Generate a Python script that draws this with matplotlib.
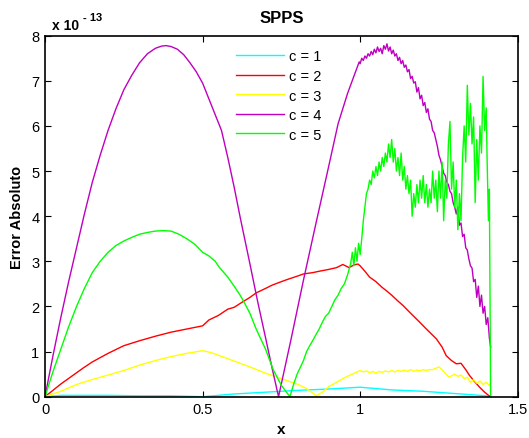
"""SPPS absolute error curves for c = 1..5 (MATLAB-style figure)."""

import matplotlib

matplotlib.use("Agg")
import matplotlib.pyplot as plt

plt.rcParams["font.family"] = ["Liberation Sans", "DejaVu Sans"]

# values in units of 1e-13
labels = ["c = 1", "c = 2", "c = 3", "c = 4", "c = 5"]
colors = ["#00ffff", "#ff0000", "#ffff00", "#bf00bf", "#00ff00"]

c1_x = [0, 0.05, 0.1, 0.2, 0.3, 0.4, 0.45, 0.5, 0.55, 0.6, 0.7, 0.8, 0.9, 1.0,
        1.05, 1.1, 1.2, 1.3, 1.35, 1.4, 1.414]
c1_y = [0, 0.03, 0.03, 0.03, 0.02, 0.02, 0.01, 0.0, 0.03, 0.06, 0.1, 0.14, 0.17, 0.21,
        0.18, 0.15, 0.12, 0.07, 0.045, 0.02, 0.0]

c2_x = [0, 0.05, 0.1, 0.12, 0.15, 0.2, 0.25, 0.3, 0.35, 0.4, 0.45, 0.5, 0.52, 0.55,
        0.58, 0.6, 0.62, 0.65, 0.67, 0.7, 0.72, 0.75, 0.77, 0.8, 0.82, 0.85, 0.87,
        0.9, 0.925, 0.945, 0.965, 0.98, 0.993, 1.0, 1.015, 1.03, 1.05, 1.07, 1.083,
        1.1, 1.12, 1.136, 1.16, 1.189, 1.21, 1.242, 1.26, 1.273, 1.29, 1.305, 1.32,
        1.335, 1.347, 1.36, 1.379, 1.395, 1.409, 1.414]
c2_y = [0, 0.28, 0.53, 0.63, 0.77, 0.96, 1.13, 1.24, 1.34, 1.43, 1.5, 1.57, 1.7, 1.8,
        1.94, 1.98, 2.07, 2.2, 2.3, 2.4, 2.47, 2.55, 2.6, 2.67, 2.72, 2.75, 2.78,
        2.82, 2.86, 2.93, 2.86, 2.92, 2.94, 2.9, 2.78, 2.65, 2.55, 2.42, 2.35,
        2.25, 2.12, 2.02, 1.85, 1.65, 1.5, 1.28, 1.1, 0.91, 0.8, 0.73, 0.74,
        0.6, 0.47, 0.36, 0.21, 0.1, 0.02, 0.0]

c3_x = [0, 0.05, 0.1, 0.15, 0.2, 0.25, 0.3, 0.35, 0.4, 0.45, 0.475, 0.5, 0.525, 0.55,
        0.6, 0.65, 0.7, 0.75, 0.8, 0.83, 0.861, 0.88, 0.9, 0.925, 0.95, 0.975, 1.0,
        1.01, 1.02, 1.03, 1.04, 1.05, 1.06, 1.07, 1.08, 1.09, 1.1, 1.11, 1.12, 1.13,
        1.14, 1.15, 1.16, 1.17, 1.18, 1.19, 1.2, 1.21, 1.22, 1.23, 1.24, 1.25, 1.26,
        1.27, 1.28, 1.29, 1.3, 1.31, 1.32, 1.33, 1.34, 1.35, 1.36, 1.37, 1.38, 1.39,
        1.4, 1.41, 1.414]
c3_y = [0, 0.12, 0.27, 0.38, 0.48, 0.58, 0.7, 0.8, 0.89, 0.96, 0.99, 1.02, 0.98, 0.92,
        0.79, 0.66, 0.52, 0.4, 0.28, 0.18, 0.02, 0.1, 0.22, 0.32, 0.42, 0.5, 0.58,
        0.55, 0.57, 0.53, 0.56, 0.52, 0.56, 0.54, 0.57, 0.55, 0.58, 0.55, 0.58, 0.56,
        0.59, 0.56, 0.6, 0.56, 0.59, 0.57, 0.6, 0.58, 0.6, 0.6, 0.63, 0.66, 0.6,
        0.52, 0.44, 0.46, 0.5, 0.45, 0.48, 0.4, 0.43, 0.32, 0.38, 0.3, 0.35, 0.27,
        0.32, 0.25, 0.3]

c4_x = [0, 0.025, 0.05, 0.075, 0.1, 0.125, 0.15, 0.175, 0.2, 0.225, 0.25, 0.275,
        0.3, 0.325, 0.35, 0.37, 0.384, 0.4, 0.42, 0.44, 0.46, 0.48, 0.5, 0.52, 0.54,
        0.56, 0.58, 0.6, 0.62, 0.65, 0.675, 0.7, 0.72, 0.741, 0.78, 0.82, 0.86, 0.9,
        0.93, 0.96, 0.98, 0.997,
        1.0, 1.005, 1.01, 1.015, 1.02, 1.025, 1.03, 1.035, 1.04, 1.045, 1.05, 1.055,
        1.06, 1.065, 1.07, 1.075, 1.08, 1.085, 1.09, 1.095, 1.1, 1.105, 1.11, 1.115,
        1.12, 1.125, 1.13, 1.135, 1.14, 1.145, 1.15, 1.155, 1.16, 1.165, 1.17, 1.175,
        1.18, 1.185, 1.19, 1.195, 1.2, 1.205, 1.21, 1.215, 1.22, 1.225, 1.23, 1.235,
        1.24, 1.245, 1.25, 1.255, 1.26, 1.265, 1.27, 1.275, 1.28, 1.285, 1.29, 1.295,
        1.3, 1.305, 1.31, 1.315, 1.32, 1.325, 1.33, 1.335, 1.34, 1.345, 1.35, 1.355,
        1.36, 1.365, 1.37, 1.375, 1.38, 1.385, 1.39, 1.395, 1.4, 1.405, 1.41, 1.414]
c4_y = [0, 0.9, 1.75, 2.55, 3.3, 4.05, 4.75, 5.35, 5.9, 6.38, 6.8, 7.12,
        7.4, 7.6, 7.72, 7.77, 7.78, 7.76, 7.7, 7.58, 7.4, 7.2, 6.95, 6.6, 6.25,
        5.9, 5.3, 4.65, 3.95, 2.95, 2.1, 1.3, 0.65, 0.0, 1.25, 2.58, 3.85, 5.1,
        6.05, 6.72, 7.1, 7.42,
        7.38, 7.5, 7.45, 7.55, 7.5, 7.6, 7.55, 7.65, 7.58, 7.7, 7.62, 7.75,
        7.65, 7.72, 7.6, 7.78, 7.7, 7.82, 7.66, 7.75, 7.6, 7.68, 7.55, 7.6,
        7.45, 7.52, 7.38, 7.45, 7.3, 7.35, 7.2, 7.25, 7.05, 7.1, 6.95, 6.98,
        6.75, 6.85, 6.6, 6.68, 6.45, 6.52, 6.3, 6.38, 6.15, 6.1, 5.9, 5.85,
        5.7, 5.55, 5.35, 5.25, 5.1, 4.95, 4.9, 4.75, 4.7, 4.55, 4.5, 4.3,
        4.2, 4.05, 4.2, 3.8, 3.85, 3.55, 3.6, 3.3, 3.25, 3.05, 2.9, 2.85,
        2.55, 2.6, 2.2, 2.45, 2.0, 2.25, 1.85, 2.0, 1.6, 1.75, 1.3, 1.1]

c5_x = [0, 0.025, 0.05, 0.075, 0.1, 0.125, 0.15, 0.175, 0.2, 0.225, 0.25, 0.275,
        0.3, 0.325, 0.35, 0.375, 0.4, 0.425, 0.45, 0.475, 0.5, 0.52, 0.54, 0.555,
        0.58, 0.6, 0.62, 0.635, 0.65, 0.67, 0.7, 0.724, 0.75, 0.777,
        0.79, 0.8, 0.81, 0.82, 0.83, 0.84,
        0.85, 0.86, 0.87, 0.88, 0.89, 0.9, 0.91, 0.92, 0.93, 0.94, 0.95, 0.96, 0.97,
        0.975, 0.98, 0.985, 0.99, 0.995, 1.0, 1.005, 1.01, 1.015, 1.02, 1.025, 1.03,
        1.035, 1.04, 1.045, 1.05, 1.055, 1.06, 1.065, 1.07, 1.075, 1.08, 1.085, 1.09,
        1.095, 1.1, 1.105, 1.11, 1.115, 1.12, 1.125, 1.13, 1.135, 1.14, 1.145, 1.15,
        1.155, 1.16, 1.165, 1.17, 1.175, 1.18, 1.185, 1.19, 1.195, 1.2, 1.205, 1.21,
        1.215, 1.22, 1.225, 1.23, 1.235, 1.24, 1.245, 1.25, 1.255, 1.26, 1.265, 1.27,
        1.275, 1.28, 1.285, 1.29, 1.295, 1.3, 1.305, 1.31, 1.315, 1.32, 1.325, 1.33,
        1.335, 1.34, 1.345, 1.35, 1.355, 1.36, 1.365, 1.37, 1.375, 1.38, 1.385, 1.39,
        1.395, 1.4, 1.403, 1.407, 1.41, 1.414]
c5_y = [0, 0.55, 1.05, 1.55, 2.0, 2.4, 2.75, 3.0, 3.2, 3.35, 3.45, 3.53,
        3.6, 3.64, 3.67, 3.68, 3.67, 3.6, 3.5, 3.38, 3.2, 3.12, 3.0, 2.85,
        2.65, 2.45, 2.24, 2.05, 1.85, 1.5, 1.05, 0.6, 0.25, 0.0,
        0.3, 0.5, 0.65, 0.8, 1.0, 1.13,
        1.25, 1.38, 1.5, 1.65, 1.78, 1.85, 2.0, 2.15, 2.25, 2.4, 2.5, 2.7, 2.95,
        3.2, 2.9, 3.3, 3.0, 3.4, 3.15, 3.5, 3.9, 4.2, 4.5, 4.6, 4.8,
        4.7, 5.0, 4.85, 5.1, 4.9, 5.2, 5.0, 5.3, 5.1, 5.4, 5.2, 5.6,
        5.3, 5.7, 5.2, 5.5, 5.0, 5.3, 4.9, 5.4, 4.8, 5.1, 4.6, 4.9,
        4.5, 4.8, 4.0, 4.5, 4.2, 4.7, 4.3, 4.8, 4.4, 4.9, 4.3, 4.7,
        4.2, 4.6, 4.3, 5.0, 4.4, 4.8, 4.1, 5.0, 4.4, 5.2, 3.9, 4.8,
        4.4, 5.6, 6.1, 4.6, 5.2, 4.2, 4.8, 3.7, 4.5, 3.9, 5.3, 6.0,
        5.2, 6.9, 5.8, 6.5, 5.6, 6.2, 4.3, 5.7, 4.8, 6.0, 5.4, 7.1,
        5.9, 6.4, 5.2, 3.9, 4.6, 0.0]

series_x = [c1_x, c2_x, c3_x, c4_x, c5_x]
series_y = [c1_y, c2_y, c3_y, c4_y, c5_y]

x_ticks = [0, 0.5, 1, 1.5]
x_tick_labels = ["0", "0.5", "1", "1.5"]
y_ticks = [0, 1, 2, 3, 4, 5, 6, 7, 8]

fig = plt.figure(figsize=(5.29, 4.39), dpi=100)
ax = fig.add_axes([0.0851, 0.0941, 0.8936, 0.8223])

for xs, ys, color, label in zip(series_x, series_y, colors, labels):
    ax.plot(xs, ys, color=color, linewidth=1.0, label=label)

ax.set_xlim(0, 1.5)
ax.set_ylim(0, 8)
ax.set_xticks(x_ticks)
ax.set_xticklabels(x_tick_labels)
ax.set_yticks(y_ticks)
ax.tick_params(direction="in", top=True, right=True, length=4, width=0.8,
               labelsize=10.5, pad=4)
for spine in ax.spines.values():
    spine.set_linewidth(1.2)

ax.set_title("SPPS", fontsize=12, fontweight="bold", pad=10)
fig.text(17.5 / 529, 1 - 217 / 439, "Error Absoluto", rotation=90,
         ha="center", va="center", fontsize=10.5, fontweight="bold")
fig.text(281 / 529, 1 - 430 / 439, "x", ha="center", va="center",
         fontsize=11, fontweight="bold")
fig.text(52 / 529, 1 - 30 / 439, "x 10", ha="left", va="baseline",
         fontsize=10, fontweight="bold")
fig.text(83 / 529, 1 - 21 / 439, "- 13", ha="left", va="baseline",
         fontsize=8, fontweight="bold")

ax.legend(loc="upper left", bbox_to_anchor=(0.404, 0.962), frameon=False,
          fontsize=10.5, handlelength=3.3, handletextpad=0.35,
          labelspacing=0.38, borderpad=0, borderaxespad=0)

fig.savefig("out.png", dpi=100)
plt.close(fig)
